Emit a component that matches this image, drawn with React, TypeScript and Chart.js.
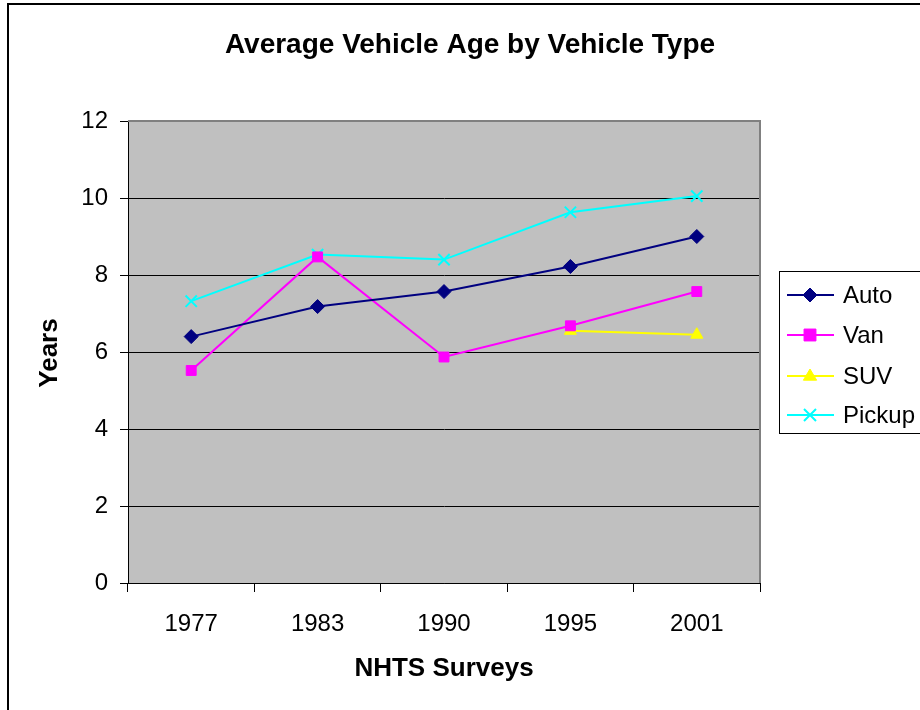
import React, { useEffect, useRef } from "react";
import { Chart, registerables } from "chart.js";

Chart.register(...registerables);

const categories = ["1977", "1983", "1990", "1995", "2001"];
const autoValues = [6.4, 7.18, 7.57, 8.22, 9.0];
const vanValues = [5.52, 8.47, 5.87, 6.68, 7.57];
const suvValues = [null, null, null, 6.55, 6.45];
const pickupValues = [7.32, 8.53, 8.4, 9.63, 10.05];
const yTicks = [0, 2, 4, 6, 8, 10, 12];

const seriesNames = ["Auto", "Van", "SUV", "Pickup"];
const seriesColors = ["#000080", "#FF00FF", "#FFFF00", "#00FFFF"];
const seriesMarkers = ["rectRot", "rect", "triangle", "crossRot"];

const FONT = '"Liberation Sans", Arial, sans-serif';

const decorPlugin = {
  id: "decor",
  beforeDraw(chart: any) {
    const { ctx, chartArea } = chart;
    ctx.save();
    ctx.fillStyle = "#ffffff";
    ctx.fillRect(0, 0, chart.width, chart.height);
    ctx.fillStyle = "#C0C0C0";
    ctx.fillRect(chartArea.left, chartArea.top, chartArea.right - chartArea.left, chartArea.bottom - chartArea.top);
    // outer border
    ctx.strokeStyle = "#000000";
    ctx.lineWidth = 2;
    ctx.beginPath();
    ctx.moveTo(8, chart.height + 5);
    ctx.lineTo(8, 4);
    ctx.lineTo(chart.width + 5, 4);
    ctx.stroke();
    ctx.restore();
  },
  beforeDatasetsDraw(chart: any) {
    const { ctx, chartArea } = chart;
    ctx.save();
    ctx.strokeStyle = "#808080";
    ctx.lineWidth = 2;
    ctx.beginPath();
    ctx.moveTo(chartArea.left, chartArea.top);
    ctx.lineTo(chartArea.right, chartArea.top);
    ctx.lineTo(chartArea.right, chartArea.bottom);
    ctx.stroke();
    ctx.restore();
  },
  afterDraw(chart: any) {
    const { ctx } = chart;
    ctx.save();
    ctx.fillStyle = "#000000";
    ctx.textAlign = "center";
    ctx.textBaseline = "middle";
    ctx.font = `bold 28px ${FONT}`;
    ctx.fillText("Average Vehicle Age by Vehicle Type", 470, 45);
    ctx.font = `bold 26px ${FONT}`;
    ctx.fillText("NHTS Surveys", 444, 669);
    ctx.save();
    ctx.translate(50, 353);
    ctx.rotate(-Math.PI / 2);
    ctx.fillText("Years", 0, 0);
    ctx.restore();

    // legend
    const lx = 779, ly = 271, lw = 150, lh = 162;
    ctx.fillStyle = "#ffffff";
    ctx.fillRect(lx, ly, lw, lh);
    ctx.strokeStyle = "#000000";
    ctx.lineWidth = 1;
    ctx.strokeRect(lx + 0.5, ly + 0.5, lw, lh);
    const rows = [295, 335, 376, 415];
    chart.data.datasets.forEach((ds: any, i: number) => {
      const y = rows[i];
      ctx.strokeStyle = ds.borderColor;
      ctx.lineWidth = 2;
      ctx.beginPath();
      ctx.moveTo(787, y);
      ctx.lineTo(834, y);
      ctx.stroke();
      ctx.fillStyle = ds.pointBackgroundColor;
      ctx.strokeStyle = ds.pointBorderColor;
      ctx.lineWidth = ds.pointBorderWidth;
      ctx.beginPath();
      const r = ds.pointRadius;
      const x = 810;
      if (ds.pointStyle === "rectRot") {
        ctx.moveTo(x, y - r); ctx.lineTo(x + r, y); ctx.lineTo(x, y + r); ctx.lineTo(x - r, y); ctx.closePath();
        ctx.fill(); ctx.stroke();
      } else if (ds.pointStyle === "rect") {
        const s = r * 0.85;
        ctx.rect(x - s, y - s, 2 * s, 2 * s); ctx.fill(); ctx.stroke();
      } else if (ds.pointStyle === "triangle") {
        ctx.moveTo(x, y - r); ctx.lineTo(x + r * 0.95, y + r * 0.6); ctx.lineTo(x - r * 0.95, y + r * 0.6); ctx.closePath();
        ctx.fill(); ctx.stroke();
      } else {
        const s = r * 0.75;
        ctx.moveTo(x - s, y - s); ctx.lineTo(x + s, y + s); ctx.moveTo(x + s, y - s); ctx.lineTo(x - s, y + s);
        ctx.stroke();
      }
      ctx.fillStyle = "#000000";
      ctx.textAlign = "left";
      ctx.textBaseline = "middle";
      ctx.font = `24px ${FONT}`;
      ctx.fillText(ds.label, 843, y + 1);
    });
    ctx.restore();
  },
};

export default function App() {
  const ref = useRef<HTMLCanvasElement | null>(null);
  useEffect(() => {
    document.body.style.margin = "0";
    if (!ref.current) return;
    const values = [autoValues, vanValues, suvValues, pickupValues];
    const chart = new Chart(ref.current, {
      type: "line",
      data: {
        labels: categories,
        datasets: seriesNames.map((name, i) => ({
          label: name,
          data: values[i] as any,
          borderColor: seriesColors[i],
          backgroundColor: seriesColors[i],
          pointBackgroundColor: seriesColors[i],
          pointBorderColor: seriesColors[i],
          pointBorderWidth: seriesMarkers[i] === "crossRot" ? 2 : 1,
          pointStyle: seriesMarkers[i] as any,
          pointRadius: seriesMarkers[i] === "crossRot" ? 8 : 7,
          borderWidth: 2,
          tension: 0,
          spanGaps: false,
          fill: false,
        })),
      },
      options: {
        animation: false,
        responsive: true,
        maintainAspectRatio: false,
        layout: { padding: { left: 0, top: 121, right: 160, bottom: 0 } },
        plugins: { legend: { display: false }, title: { display: false }, tooltip: { enabled: false } },
        scales: {
          x: {
            type: "category",
            offset: true,
            grid: { display: true, offset: true, drawOnChartArea: false, drawTicks: true, tickLength: 9, color: "#000000", lineWidth: 1 },
            border: { display: true, color: "#000000", width: 1 },
            ticks: { color: "#000000", font: { family: FONT, size: 24 }, padding: 18, maxRotation: 0 },
            afterFit: (scale: any) => { scale.height = 127; },
          },
          y: {
            min: 0,
            max: 12,
            afterBuildTicks: (scale: any) => { scale.ticks = yTicks.map((v) => ({ value: v })); },
            grid: { color: "#000000", lineWidth: 1, drawTicks: true, tickLength: 8 },
            border: { display: true, color: "#000000", width: 1 },
            ticks: { color: "#000000", font: { family: FONT, size: 24 }, padding: 12 },
            afterFit: (scale: any) => { scale.width = 128; },
          },
        },
      },
      plugins: [decorPlugin],
    });
    return () => chart.destroy();
  }, []);
  return (
    <div style={{ position: "fixed", left: 0, top: 0, width: 920, height: 710 }}>
      <canvas ref={ref} />
    </div>
  );
}
